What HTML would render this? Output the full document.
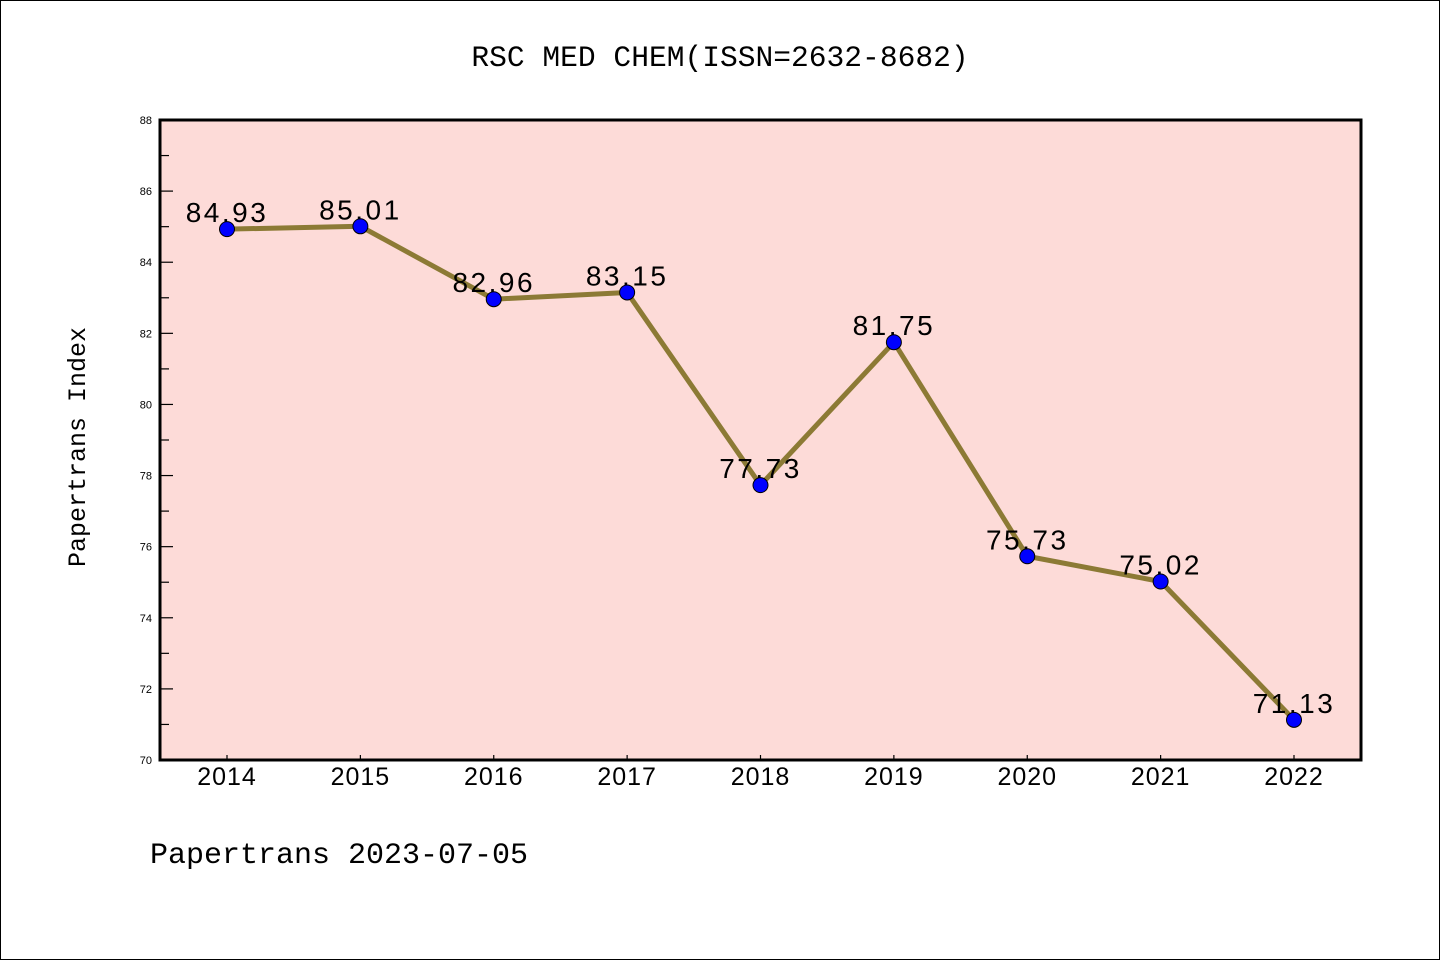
<!DOCTYPE html>
<html><head><meta charset="utf-8"><style>
html,body{margin:0;padding:0;background:#fff}
svg{display:block}
</style></head><body>
<svg id="chart" width="1440" height="960" xmlns="http://www.w3.org/2000/svg">
<rect x="0.5" y="0.5" width="1439" height="959" fill="#fff" stroke="#000" stroke-width="1"/>
<text x="720" y="66" text-anchor="middle" font-family="Liberation Mono, monospace" font-size="29.6">RSC MED CHEM(ISSN=2632-8682)</text>
<rect x="160" y="120" width="1201" height="640" fill="#fddbd8"/>
<g id="axes"></g>
<g id="marks"></g>
<rect x="160" y="120" width="1201" height="640" fill="none" stroke="#000" stroke-width="3"/>
<text transform="translate(85,447) rotate(-90)" text-anchor="middle" font-family="Liberation Mono, monospace" font-size="25">Papertrans Index</text>
<text x="150" y="863" font-family="Liberation Mono, monospace" font-size="30">Papertrans 2023-07-05</text>
</svg>
<script>
const categories = ["2014","2015","2016","2017","2018","2019","2020","2021","2022"];
const values = [84.93,85.01,82.96,83.15,77.73,81.75,75.73,75.02,71.13];
const valueLabels = ["84.93","85.01","82.96","83.15","77.73","81.75","75.73","75.02","71.13"];
const yTicks = [70,72,74,76,78,80,82,84,86,88];
const yMin = 70, yMax = 88;
const NS = "http://www.w3.org/2000/svg";
function xPos(i){ return 227 + i*(1294-227)/(categories.length-1); }
function yPos(v){ return 760 - (v-yMin)/(yMax-yMin)*640; }
function mk(tag, attrs, parent){ const e=document.createElementNS(NS,tag); for(const k in attrs) e.setAttribute(k,attrs[k]); parent.appendChild(e); return e; }
const axes=document.getElementById('axes'), marks=document.getElementById('marks');
yTicks.forEach((t,i)=>{
  const y=yPos(t);
  const l=mk('line',{x1:160,x2:173,y1:y,y2:y,stroke:'#000','stroke-width':1.2},axes);
  
  
  const tx=mk('text',{x:152,y:y+4,'text-anchor':'end','font-family':'Liberation Sans, sans-serif','font-size':11},axes);
  tx.textContent=t;
  
  
  if(i<yTicks.length-1){
    const ym=yPos(t+1);
    const m=mk('line',{x1:160,x2:169,y1:ym,y2:ym,stroke:'#000','stroke-width':1.2},axes);
    
    
  }
});
categories.forEach((c,i)=>{
  const x=xPos(i);
  const l=mk('line',{x1:x,x2:x,y1:760,y2:755,stroke:'#000','stroke-width':1.2},axes);
  
  
  const tx=mk('text',{x:x,y:785,'text-anchor':'middle','font-family':'Liberation Sans, sans-serif','font-size':25,'letter-spacing':1},axes);
  tx.textContent=c;
  
  
});
const pts=values.map((v,i)=>xPos(i)+','+yPos(v)).join(' ');
const line=mk('polyline',{points:pts,fill:'none',stroke:'#8c7a35','stroke-width':5,'stroke-linejoin':'round'},marks);


values.forEach((v,i)=>{
  const c=mk('circle',{cx:xPos(i),cy:yPos(v),r:7.5,fill:'#0000ff',stroke:'#000','stroke-width':1},marks);
  
  
  const t=mk('text',{x:xPos(i),y:yPos(v)-7,'text-anchor':'middle','font-family':'Liberation Sans, sans-serif','font-size':28,'letter-spacing':2.5},marks);
  t.textContent=valueLabels[i];
  
  
});
</script>
</body></html>
